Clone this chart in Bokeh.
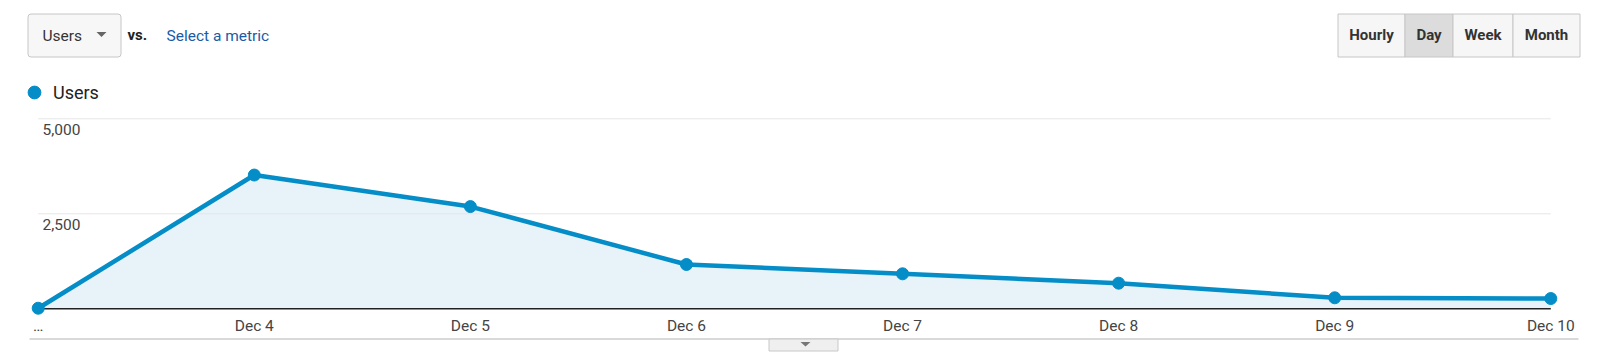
from bokeh.plotting import figure
from bokeh.models import (Range1d, FixedTicker, NumeralTickFormatter, LinearAxis,
                          Label, BoxAnnotation, PolyAnnotation, Legend, LegendItem,
                          ColumnDataSource)
from bokeh.layouts import column
from bokeh.embed import file_html
from bokeh.resources import INLINE

# ---- data ----
dates = ["…", "Dec 4", "Dec 5", "Dec 6", "Dec 7", "Dec 8", "Dec 9", "Dec 10"]
users = [15, 3520, 2690, 1166, 921, 674, 290, 270]
y_ticks = [2500, 5000]
series_name = "Users"
metric_label = "Users"
link_text = "Select a metric"
buttons = ["Hourly", "Day", "Week", "Month"]
active_button = "Day"

# ---- geometry (canvas px) ----
W = 1600
H_MAIN = 337
H_FOOT = 18
FL, FB = 25, 315          # frame left, frame bottom
X0, X1 = 37.7, 1550.3     # pixel of first / last point
Y0, PX_PER = 308.3, 0.038 # baseline pixel, px per user

idx = list(range(len(dates)))
step = (X1 - X0) / (len(dates) - 1)
x_start = (FL - X0) / step
x_end = (W - X0) / step
y_start = (Y0 - FB) / PX_PER
y_end = Y0 / PX_PER

FONT = "Roboto"
BLUE = "#058dc7"

p = figure(width=W, height=H_MAIN, output_backend="svg", toolbar_location=None,
           x_range=Range1d(x_start, x_end), y_range=Range1d(y_start, y_end),
           min_border_left=FL, min_border_right=0, min_border_top=0,
           min_border_bottom=H_MAIN - FB, x_axis_location=None, y_axis_location=None)
p.outline_line_color = None
p.xgrid.visible = False
p.ygrid.visible = False
p.background_fill_color = "white"
p.border_fill_color = "white"

src = ColumnDataSource(dict(x=idx, y=users, zero=[0] * len(idx)))

# area, grid segments, baseline, line, points
p.varea(x="x", y1="zero", y2="y", source=src, fill_color="#e7f2f9")
p.segment(x0=[idx[0]] * len(y_ticks), x1=[idx[-1]] * len(y_ticks), y0=y_ticks, y1=y_ticks,
          line_color="#e6e6e6", line_width=1)
p.segment(x0=[idx[0]], x1=[idx[-1]], y0=[0], y1=[0], line_color="#222222", line_width=1.5)
p.line(x="x", y="y", source=src, line_color=BLUE, line_width=4.5, line_join="round")
pts = p.scatter(x="x", y="y", source=src, size=12, fill_color=BLUE, line_color=BLUE)

# x axis
xax = LinearAxis(ticker=FixedTicker(ticks=idx),
                 major_label_overrides={i: d for i, d in zip(idx, dates)})
xax.axis_line_color = None
xax.major_tick_line_color = None
xax.minor_tick_line_color = None
xax.major_tick_out = 0
xax.major_tick_in = 0
xax.major_label_standoff = 1
xax.major_label_text_font = FONT
xax.major_label_text_font_size = "15.5px"
xax.major_label_text_color = "#444444"
p.add_layout(xax, "below")

# y axis (labels sit just under their gridlines)
shift = 11 / PX_PER
p.extra_y_ranges = {"lab": Range1d(y_start + shift, y_end + shift)}
yax = LinearAxis(y_range_name="lab", ticker=FixedTicker(ticks=y_ticks),
                 formatter=NumeralTickFormatter(format="0,0"))
yax.axis_line_color = None
yax.major_tick_line_color = None
yax.minor_tick_line_color = None
yax.major_tick_out = 0
yax.major_tick_in = 0
yax.major_label_standoff = -(80 - FL)
yax.major_label_text_font = FONT
yax.major_label_text_font_size = "15.5px"
yax.major_label_text_color = "#444444"
p.add_layout(yax, "left")


def sx(cx):
    return cx - FL


def sy(cy):
    return FB - cy


def box(l, r, t, b, fill, line="#c6c6c6", radius=0):
    p.add_layout(BoxAnnotation(left=sx(l), right=sx(r), top=sy(t), bottom=sy(b),
                               left_units="screen", right_units="screen",
                               top_units="screen", bottom_units="screen",
                               fill_color=fill, fill_alpha=1, line_color=line,
                               line_alpha=1 if line else 0, line_width=1,
                               border_radius=radius, level="overlay"))


def tri(xs, ys, color):
    p.add_layout(PolyAnnotation(xs=[sx(v) for v in xs], ys=[sy(v) for v in ys],
                                xs_units="screen", ys_units="screen",
                                fill_color=color, fill_alpha=1, line_color=None,
                                level="overlay"))


def label(cx, cy, text, size, color, style="normal", align="left"):
    p.add_layout(Label(x=sx(cx), y=sy(cy), x_units="screen", y_units="screen",
                       text=text, text_font=FONT, text_font_size=size,
                       text_color=color, text_font_style=style, text_align=align,
                       text_baseline="middle", level="overlay"))


# metric dropdown
box(27.5, 120.5, 13.5, 56.5, "#f7f7f7", radius=3)
label(42, 35, metric_label, "15.5px", "#333333")
tri([96, 106, 101], [31.5, 31.5, 36.5], "#666666")
label(127, 34, "vs.", "15px", "#222222", style="bold")
label(166, 35, link_text, "15.5px", "#1a5ba6")

# period buttons
edges = [1337.5, 1404.5, 1452.5, 1512.5, 1579.5]
for i, b in enumerate(buttons):
    fill = "#dcdcdc" if b == active_button else "#f6f6f6"
    box(edges[i], edges[i + 1], 13.5, 56.5, fill, radius=0)
    label((edges[i] + edges[i + 1]) / 2, 34.5, b, "15px", "#333333", style="bold", align="center")

# legend
leg = Legend(items=[LegendItem(label=series_name, renderers=[pts])],
             location=(sx(18), sy(108)), orientation="horizontal",
             glyph_width=32, glyph_height=32, label_standoff=3, padding=0, margin=0,
             border_line_color=None, background_fill_alpha=0,
             label_text_font=FONT, label_text_font_size="18px",
             label_text_color="#222222")
p.add_layout(leg)

# ---- footer strip: bottom rule and collapse tab (canvas-pixel coordinates) ----
f = figure(width=W, height=H_FOOT, output_backend="svg", toolbar_location=None,
           x_range=Range1d(FL, W), y_range=Range1d(H_FOOT, 0),
           min_border=0, min_border_left=FL, x_axis_location=None, y_axis_location=None)
f.outline_line_color = None
f.xgrid.visible = False
f.ygrid.visible = False
f.border_fill_color = "white"
f.background_fill_color = "white"
top = H_MAIN
f.segment(x0=[29], x1=[1578], y0=[338.5 - top], y1=[338.5 - top], line_color="#cccccc", line_width=1.5)
f.quad(left=[768.5], right=[837.5], top=[338.5 - top], bottom=[350.5 - top],
       fill_color="#efefef", line_color="#c8c8c8", line_width=1)
f.patch(x=[800, 810, 805], y=[341.5 - top, 341.5 - top, 346 - top], fill_color="#777777", line_color=None)

layout = column(p, f, spacing=0)
open("out.html", "w").write(file_html(layout, INLINE))
